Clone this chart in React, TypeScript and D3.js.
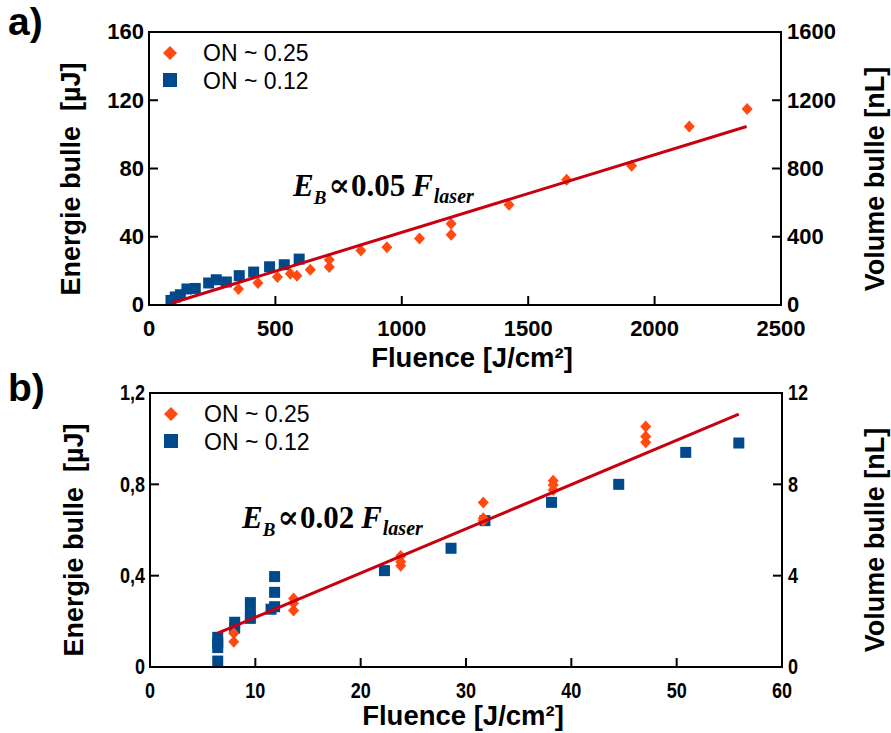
import React from 'react';
import * as d3 from 'd3';

// ---------- Panel a data ----------
const aOrangeFluence = [354, 431, 508, 559, 585, 638, 713, 713, 838, 941, 1070, 1195, 1195, 1424, 1652, 1909, 2137, 2366];
const aOrangeEnergy = [9.4, 12.9, 16.4, 18.3, 17.2, 20.7, 26.5, 22.2, 32.0, 33.8, 39.0, 41.2, 47.6, 58.7, 73.4, 81.6, 104.6, 114.8];
const aBlueFluence = [87, 104, 124, 150, 183, 236, 266, 306, 357, 414, 477, 535, 594];
const aBlueEnergy = [2.7, 4.7, 6.0, 9.4, 9.7, 12.9, 14.8, 13.5, 17.2, 19.3, 22.4, 23.6, 26.9];
const aFitFluence = [91, 2364];
const aFitEnergy = [1.2, 104.6];
const aXTicks = [0, 500, 1000, 1500, 2000, 2500];
const aYTicks = [0, 40, 80, 120, 160];
const aY2Ticks = [0, 400, 800, 1200, 1600];

// ---------- Panel b data ----------
const bOrangeFluence = [7.95, 7.95, 13.63, 13.63, 13.63, 23.8, 23.8, 23.8, 31.64, 31.64, 31.64, 38.28, 38.28, 38.28, 47.06, 47.06, 47.06];
const bOrangeEnergy = [0.148, 0.111, 0.30, 0.279, 0.247, 0.486, 0.461, 0.443, 0.72, 0.651, 0.64, 0.816, 0.797, 0.775, 1.053, 1.009, 0.984];
const bBlueFluence = [6.43, 6.43, 6.43, 6.43, 8.04, 8.04, 9.53, 9.53, 9.53, 11.49, 11.83, 11.83, 11.83, 22.26, 28.58, 31.8, 38.12, 44.5, 50.86, 55.9];
const bBlueEnergy = [0.026, 0.085, 0.105, 0.13, 0.196, 0.17, 0.282, 0.235, 0.213, 0.253, 0.396, 0.327, 0.264, 0.422, 0.52, 0.641, 0.721, 0.80, 0.94, 0.981];
const bFitFluence = [6.43, 55.9];
const bFitEnergy = [0.148, 1.107];
const bXTicks = [0, 10, 20, 30, 40, 50, 60];
const bYTicks = [0, 0.4, 0.8, 1.2];
const bYTickLabels = ['0', '0,4', '0,8', '1,2'];
const bY2Ticks = [0, 4, 8, 12];

const legendNames = ['ON ~ 0.25', 'ON ~ 0.12'];
const ORANGE = '#FF4A12';
const BLUE = '#004A8C';
const RED = '#C8000F';
const SANS = "'Liberation Sans', Arial, sans-serif";

const diamondPath = (cx: number, cy: number, w: number, h: number) =>
  `M${cx},${cy - h / 2}L${cx + w / 2},${cy}L${cx},${cy + h / 2}L${cx - w / 2},${cy}Z`;

type PanelProps = {
  xDomain: [number, number]; xRange: [number, number];
  yDomain: [number, number]; yRange: [number, number];
  y2Domain: [number, number];
  xTicks: number[]; yTicks: number[]; yTickLabels: string[]; y2Ticks: number[];
  orangeX: number[]; orangeY: number[]; blueX: number[]; blueY: number[];
  fitX: number[]; fitY: number[];
  tickScaleX: number; tickSize: number;
  coeff: string; eqX: number; eqY: number;
  letter: string; letterY: number;
  xLabelX: number; xLabelY: number; yLabelX: number; y2LabelX: number; yLabelY: number;
  tickLabelY: number;
};

function Panel(p: PanelProps) {
  const x = d3.scaleLinear().domain(p.xDomain).range(p.xRange);
  const y = d3.scaleLinear().domain(p.yDomain).range(p.yRange);
  const y2 = d3.scaleLinear().domain(p.y2Domain).range(p.yRange);
  const [x0, x1] = p.xRange;
  const [yb, yt] = p.yRange;
  const TL = 9;
  const line = d3.line<number>().x((_, i) => x(p.fitX[i])).y((_, i) => y(p.fitY[i]));
  const tickStyle = { fontFamily: SANS, fontWeight: 700, fontSize: p.tickSize } as React.CSSProperties;
  const labelStyle = { fontFamily: SANS, fontWeight: 700, fontSize: 27 } as React.CSSProperties;
  const tl = (tx: number, ty: number) => `translate(${tx},${ty}) scale(${p.tickScaleX},1)`;
  const off = p.tickSize * 0.33;
  return (
    <g>
      <text x={8} y={p.letterY} style={{ fontFamily: SANS, fontWeight: 700, fontSize: 39 }}>{p.letter}</text>
      {/* markers */}
      {p.blueX.map((v, i) => (
        <rect key={'b' + i} x={x(v) - 5.5} y={y(p.blueY[i]) - 5.5} width={11} height={11} fill={BLUE} />
      ))}
      {p.orangeX.map((v, i) => (
        <path key={'o' + i} d={diamondPath(x(v), y(p.orangeY[i]), 11, 12)} fill={ORANGE} />
      ))}
      <path d={line([0, 1]) || ''} stroke={RED} strokeWidth={3} fill="none" />
      {/* frame */}
      <rect x={x0} y={yt} width={x1 - x0} height={yb - yt} fill="none" stroke="#000" strokeWidth={2} />
      {p.xTicks.map((t) => (
        <g key={'xt' + t}>
          <line x1={x(t)} x2={x(t)} y1={yb} y2={yb - TL} stroke="#000" strokeWidth={2} />
          <text transform={tl(x(t), p.tickLabelY)} textAnchor="middle" style={tickStyle}>{t}</text>
        </g>
      ))}
      {p.yTicks.map((t, i) => (
        <g key={'yt' + t}>
          <line x1={x0} x2={x0 + TL} y1={y(t)} y2={y(t)} stroke="#000" strokeWidth={2} />
          <text transform={tl(x0 - 5, y(t) + off)} textAnchor="end" style={tickStyle}>{p.yTickLabels[i]}</text>
        </g>
      ))}
      {p.y2Ticks.map((t) => (
        <g key={'y2t' + t}>
          <line x1={x1} x2={x1 - TL} y1={y2(t)} y2={y2(t)} stroke="#000" strokeWidth={2} />
          <text transform={tl(x1 + 6, y2(t) + off)} textAnchor="start" style={tickStyle}>{t}</text>
        </g>
      ))}
      {/* legend */}
      <path d={diamondPath(x0 + 21, yt + 21, 14, 14)} fill={ORANGE} />
      <text x={x0 + 54} y={yt + 29} style={{ fontFamily: SANS, fontSize: 23 }}>{legendNames[0]}</text>
      <rect x={x0 + 14} y={yt + 41} width={14} height={14} fill={BLUE} />
      <text x={x0 + 54} y={yt + 57} style={{ fontFamily: SANS, fontSize: 23 }}>{legendNames[1]}</text>
      {/* equation */}
      <text x={p.eqX} y={p.eqY} style={{ fontFamily: "'Liberation Serif', 'Times New Roman', serif", fontWeight: 700, fontSize: 31 }}>
        <tspan fontStyle="italic">E</tspan>
        <tspan fontStyle="italic" fontSize={19} dy={8}>B</tspan>
        <tspan dy={-8} dx={2} fontFamily="'DejaVu Serif', serif" fontSize={32}>∝</tspan>
        <tspan dx={1}>{p.coeff}</tspan>
        <tspan fontStyle="italic" dx={7}>F</tspan>
        <tspan fontStyle="italic" fontSize={20} dy={7} dx={1}>laser</tspan>
      </text>
      {/* axis labels */}
      <text x={p.xLabelX} y={p.xLabelY} textAnchor="middle" style={{ ...labelStyle, fontSize: 27.5 }}>Fluence [J/cm²]</text>
      <text transform={`translate(${p.yLabelX},${p.yLabelY}) rotate(-90)`} textAnchor="middle" style={labelStyle} xmlSpace="preserve">Energie bulle  [µJ]</text>
      <text transform={`translate(${p.y2LabelX},${p.yLabelY}) rotate(-90)`} textAnchor="middle" style={labelStyle}>Volume bulle [nL]</text>
    </g>
  );
}

export default function App() {
  return (
    <svg width={891} height={733} style={{ position: 'absolute', left: 0, top: 0, background: '#fff' }}>
      <rect width={891} height={733} fill="#fff" />
      <Panel
        xDomain={[0, 2500]} xRange={[149, 781]}
        yDomain={[0, 160]} yRange={[305, 32]}
        y2Domain={[0, 1600]}
        xTicks={aXTicks} yTicks={aYTicks} yTickLabels={aYTicks.map(String)} y2Ticks={aY2Ticks}
        orangeX={aOrangeFluence} orangeY={aOrangeEnergy}
        blueX={aBlueFluence} blueY={aBlueEnergy}
        fitX={aFitFluence} fitY={aFitEnergy}
        tickScaleX={1} tickSize={22}
        coeff="0.05" eqX={293} eqY={196}
        letter="a)" letterY={35}
        xLabelX={472} xLabelY={367} yLabelX={80} y2LabelX={884} yLabelY={179}
        tickLabelY={336}
      />
      <Panel
        xDomain={[0, 60]} xRange={[150, 782]}
        yDomain={[0, 1.2]} yRange={[667, 393]}
        y2Domain={[0, 12]}
        xTicks={bXTicks} yTicks={bYTicks} yTickLabels={bYTickLabels} y2Ticks={bY2Ticks}
        orangeX={bOrangeFluence} orangeY={bOrangeEnergy}
        blueX={bBlueFluence} blueY={bBlueEnergy}
        fitX={bFitFluence} fitY={bFitEnergy}
        tickScaleX={0.82} tickSize={22}
        coeff="0.02" eqX={242} eqY={528}
        letter="b)" letterY={401}
        xLabelX={463} xLabelY={725} yLabelX={83} y2LabelX={884} yLabelY={540}
        tickLabelY={698}
      />
    </svg>
  );
}
